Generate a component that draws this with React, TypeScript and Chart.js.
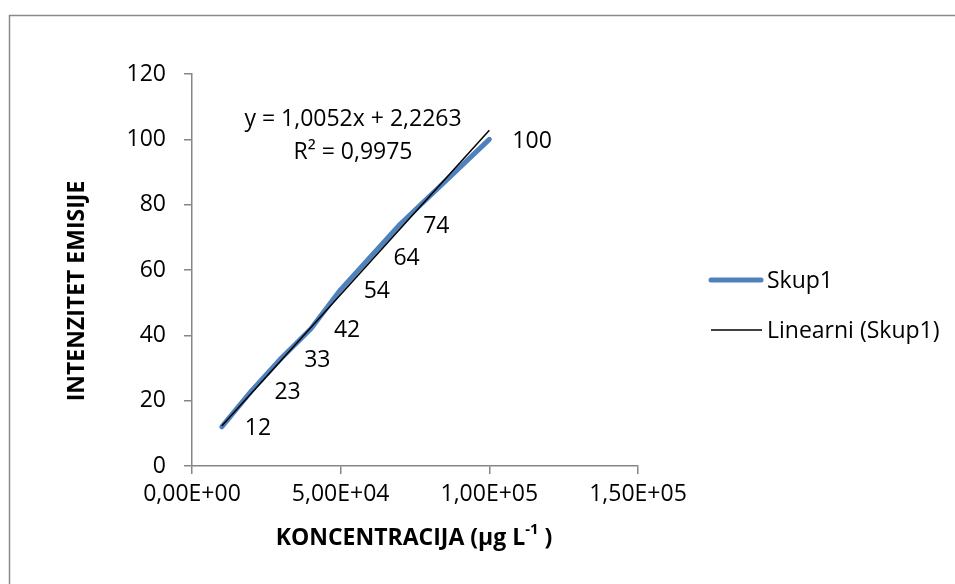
import React, { useEffect, useRef } from "react";
import { Chart, registerables } from "chart.js";

Chart.register(...registerables);

// ---- data ----
const concentrations = [10000, 20000, 30000, 40000, 50000, 60000, 70000, 100000];
const intensities = [12, 23, 33, 42, 54, 64, 74, 100];
const seriesLabel = "Skup1";
const trendLabel = "Linearni (Skup1)";
const trendSlope = 1.0052;
const trendIntercept = 2.2263;
const trendXUnit = 1000;
const rSquared = 0.9975;
const xTickValues = [0, 50000, 100000, 150000];
const yTickValues = [0, 20, 40, 60, 80, 100, 120];
const xTitleMain = "KONCENTRACIJA (µg L";
const xTitleSup = "-1";
const xTitleEnd = " )";
const yTitle = "INTENZITET EMISIJE";

const FONT = "'Open Sans', 'Noto Sans', sans-serif";
const BLUE = "#4F81BD";
const AXIS = "#868686";
const FS = 23;

const comma = (v: number, d: number) => v.toFixed(d).replace(".", ",");
const sci = (v: number) => {
  const [m, e] = v.toExponential(2).split("e");
  const sign = e[0] === "-" ? "-" : "+";
  const digits = e.replace(/[+-]/, "").padStart(2, "0");
  return m.replace(".", ",") + "E" + sign + digits;
};

const trendPoints = [concentrations[0], concentrations[concentrations.length - 1]].map((x) => ({
  x,
  y: trendSlope * (x / trendXUnit) + trendIntercept,
}));

const decorPlugin = {
  id: "decor",
  afterDraw(chart: any) {
    const ctx = chart.ctx as CanvasRenderingContext2D;
    ctx.save();
    // outer border (top and left visible)
    ctx.strokeStyle = "#8a8a8a";
    ctx.lineWidth = 1.5;
    ctx.beginPath();
    ctx.moveTo(9.5, 600);
    ctx.lineTo(9.5, 15.5);
    ctx.lineTo(970, 15.5);
    ctx.stroke();

    // data labels
    ctx.fillStyle = "#000";
    ctx.font = `${FS}px ${FONT}`;
    ctx.textAlign = "left";
    ctx.textBaseline = "middle";
    const meta = chart.getDatasetMeta(0);
    meta.data.forEach((el: any, i: number) => {
      ctx.fillText(String(intensities[i]), el.x + 23, el.y + 2);
    });

    // trendline equation
    ctx.textAlign = "center";
    ctx.fillText(`y = ${comma(trendSlope, 4)}x + ${comma(trendIntercept, 4)}`, 353, 119);
    ctx.fillText(`R² = ${comma(rSquared, 4)}`, 353, 152);

    // legend
    const ds0 = chart.data.datasets[0];
    const ds1 = chart.data.datasets[1];
    ctx.lineCap = "round";
    ctx.strokeStyle = ds0.borderColor;
    ctx.lineWidth = 5;
    ctx.beginPath();
    ctx.moveTo(711, 280);
    ctx.lineTo(761, 280);
    ctx.stroke();
    ctx.lineCap = "butt";
    ctx.strokeStyle = ds1.borderColor;
    ctx.lineWidth = 1.5;
    ctx.beginPath();
    ctx.moveTo(711, 330);
    ctx.lineTo(762, 330);
    ctx.stroke();
    ctx.textAlign = "left";
    ctx.fillText(ds0.label, 767, 281);
    ctx.fillText(ds1.label, 767, 331);

    // y title
    ctx.font = `bold 23px ${FONT}`;
    ctx.save();
    ctx.translate(77, 291);
    ctx.rotate(-Math.PI / 2);
    ctx.textAlign = "center";
    ctx.fillText(yTitle, 0, 0);
    ctx.restore();

    // x title with superscript
    const mainFont = `bold 23px ${FONT}`;
    const supFont = `bold 15px ${FONT}`;
    ctx.font = mainFont;
    const w1 = ctx.measureText(xTitleMain).width;
    const w3 = ctx.measureText(xTitleEnd).width;
    ctx.font = supFont;
    const w2 = ctx.measureText(xTitleSup).width;
    const total = w1 + w2 + w3;
    let x = 414 - total / 2;
    const y = 538;
    ctx.textAlign = "left";
    ctx.font = mainFont;
    ctx.fillText(xTitleMain, x, y);
    x += w1;
    ctx.font = supFont;
    ctx.fillText(xTitleSup, x, y - 8);
    x += w2;
    ctx.font = mainFont;
    ctx.fillText(xTitleEnd, x, y);
    ctx.restore();
  },
};

export default function App() {
  const ref = useRef<HTMLCanvasElement | null>(null);
  useEffect(() => {
    if (!ref.current) return;
    const chart = new Chart(ref.current, {
      type: "scatter",
      data: {
        datasets: [
          {
            label: seriesLabel,
            data: concentrations.map((x, i) => ({ x, y: intensities[i] })),
            showLine: true,
            borderColor: BLUE,
            backgroundColor: BLUE,
            borderWidth: 5,
            borderCapStyle: "round",
            borderJoinStyle: "round",
            pointRadius: 0,
            tension: 0,
            order: 1,
          },
          {
            label: trendLabel,
            data: trendPoints,
            showLine: true,
            borderColor: "#000000",
            backgroundColor: "#000000",
            borderWidth: 1.5,
            pointRadius: 0,
            tension: 0,
            order: 0,
          },
        ],
      },
      options: {
        responsive: false,
        animation: false,
        devicePixelRatio: 1,
        layout: { padding: { left: 0, top: 74, right: 317, bottom: 78 } },
        plugins: {
          legend: { display: false },
          tooltip: { enabled: false },
          title: { display: false },
        },
        scales: {
          x: {
            type: "linear",
            min: 0,
            max: 150000,
            afterBuildTicks: (s: any) => {
              s.ticks = xTickValues.map((value) => ({ value }));
            },
            afterFit: (s: any) => {
              s.height = 40;
            },
            ticks: {
              color: "#000",
              font: { family: FONT, size: FS },
              padding: 7,
              maxRotation: 0,
              callback: (v: any) => sci(Number(v)),
            },
            grid: { drawOnChartArea: false, drawTicks: true, tickLength: 8, color: AXIS, lineWidth: 1.5 },
            border: { color: AXIS, width: 1.5 },
          },
          y: {
            type: "linear",
            min: 0,
            max: 120,
            afterBuildTicks: (s: any) => {
              s.ticks = yTickValues.map((value) => ({ value }));
            },
            afterFit: (s: any) => {
              s.width = 192;
            },
            ticks: {
              color: "#000",
              font: { family: FONT, size: FS },
              padding: 18,
            },
            grid: { drawOnChartArea: false, drawTicks: true, tickLength: 8, color: AXIS, lineWidth: 1.5 },
            border: { color: AXIS, width: 1.5 },
          },
        },
      } as any,
      plugins: [decorPlugin],
    });
    return () => chart.destroy();
  }, []);
  return (
    <div style={{ position: "absolute", left: 0, top: 0, width: 955, height: 584, background: "#fff" }}>
      <canvas ref={ref} width={955} height={584} style={{ display: "block" }} />
    </div>
  );
}
